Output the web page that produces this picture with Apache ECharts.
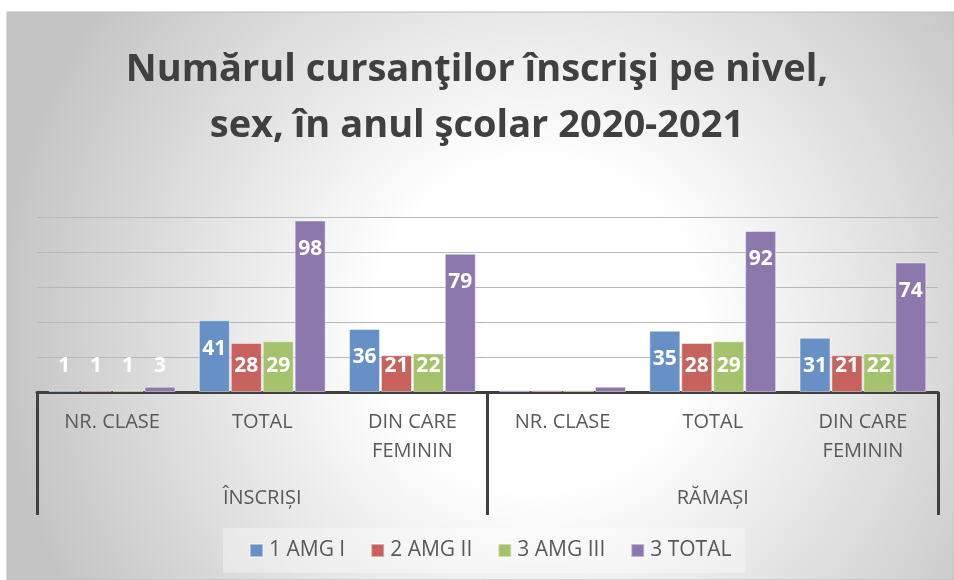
<!DOCTYPE html>
<html>
<head>
<meta charset="utf-8">
<script src="https://cdn.jsdelivr.net/npm/echarts@6/dist/echarts.min.js"></script>
<style>
html,body{margin:0;padding:0;background:#ffffff;}
#c{width:954px;height:580px;}
</style>
</head>
<body>
<div id="c"></div>
<script>
// ---- data ----
const categories = ['NR. CLASE', 'TOTAL', 'DIN CARE\nFEMININ', 'NR. CLASE', 'TOTAL', 'DIN CARE\nFEMININ'];
const groups = ['ÎNSCRIȘI', 'RĂMAȘI'];
const seriesNames = ['1 AMG I', '2 AMG II', '3 AMG III', '3 TOTAL'];
const amg1 = [1, 41, 36, 1, 35, 31];
const amg2 = [1, 28, 21, 1, 28, 21];
const amg3 = [1, 29, 22, 1, 29, 22];
const totalVals = [3, 98, 79, 3, 92, 74];
const hiddenLabelCategories = [3];
const valueTicks = [0, 20, 40, 60, 80, 100];

const colors = ['#6791C6', '#C7625F', '#A5C36C', '#8D78AE'];
const seriesData = [amg1, amg2, amg3, totalVals];
const FONT = '"Open Sans", "Noto Sans", sans-serif';

function makeData(vals) {
  return vals.map((v, i) => {
    const hidden = hiddenLabelCategories.indexOf(i) >= 0;
    const big = v > 30;
    return {
      value: v,
      label: hidden ? { show: false } :
        (big ? { position: 'insideTop', distance: 18 } : { position: 'insideBottom', distance: 15 })
    };
  });
}

const chart = echarts.init(document.getElementById('c'), null, { renderer: 'canvas' });
chart.setOption({
  animation: false,
  color: colors,
  graphic: [
    {
      type: 'rect', z: -10, silent: true,
      shape: { x: 7, y: 12, width: 947, height: 568 },
      style: {
        fill: {
          type: 'radial', x: 0.56, y: 0.55, r: 0.95,
          colorStops: [
            { offset: 0, color: '#ffffff' },
            { offset: 0.3, color: '#ffffff' },
            { offset: 1, color: '#c4c4c4' }
          ]
        },
        stroke: '#bdbdbd', lineWidth: 1
      }
    }
  ],
  title: {
    text: 'Numărul cursanţilor înscrişi pe nivel,\nsex, în anul şcolar 2020-2021',
    left: 'center',
    top: 37,
    textStyle: {
      fontFamily: FONT, fontSize: 38, fontWeight: 'bold', color: '#404040', lineHeight: 56
    }
  },
  legend: {
    left: 223, top: 528,
    padding: [12, 14, 12, 26],
    backgroundColor: 'rgba(255,255,255,0.35)',
    itemWidth: 13, itemHeight: 13, itemGap: 25,
    icon: 'rect',
    data: seriesNames,
    textStyle: { fontFamily: FONT, fontSize: 21, color: '#595959', padding: [0, 0, 0, 1] }
  },
  grid: { left: 37, right: 16, top: 217, bottom: 188, containLabel: false },
  xAxis: [
    {
      type: 'category', data: categories, position: 'bottom',
      axisLine: { show: true, lineStyle: { color: '#404040', width: 3 } },
      axisTick: { show: false },
      axisLabel: {
        interval: 0, margin: 16, fontFamily: FONT, fontSize: 20, lineHeight: 29, color: '#595959'
      }
    },
    {
      type: 'category', data: groups, position: 'bottom',
      axisLine: { show: false },
      axisTick: { show: true, length: 123, alignWithLabel: false, lineStyle: { color: '#404040', width: 3 } },
      axisLabel: { interval: 0, margin: 96, fontFamily: FONT, fontSize: 20, lineHeight: 20, color: '#595959' }
    }
  ],
  yAxis: {
    type: 'value', min: valueTicks[0], max: valueTicks[valueTicks.length - 1],
    interval: valueTicks[1] - valueTicks[0],
    axisLabel: { show: false }, axisLine: { show: false }, axisTick: { show: false },
    splitLine: { lineStyle: { color: '#b8b8b8', width: 1 } }
  },
  series: seriesData.map((vals, k) => ({
    type: 'bar', name: seriesNames[k], xAxisIndex: 0,
    data: makeData(vals),
    barWidth: 31, barGap: '3%',
    itemStyle: { color: colors[k], borderColor: 'rgba(255,255,255,0.45)', borderWidth: 1 },
    label: {
      show: true, color: '#ffffff', fontFamily: FONT, fontSize: 21, fontWeight: 'bold', lineHeight: 21
    }
  }))
});
</script>
</body>
</html>
